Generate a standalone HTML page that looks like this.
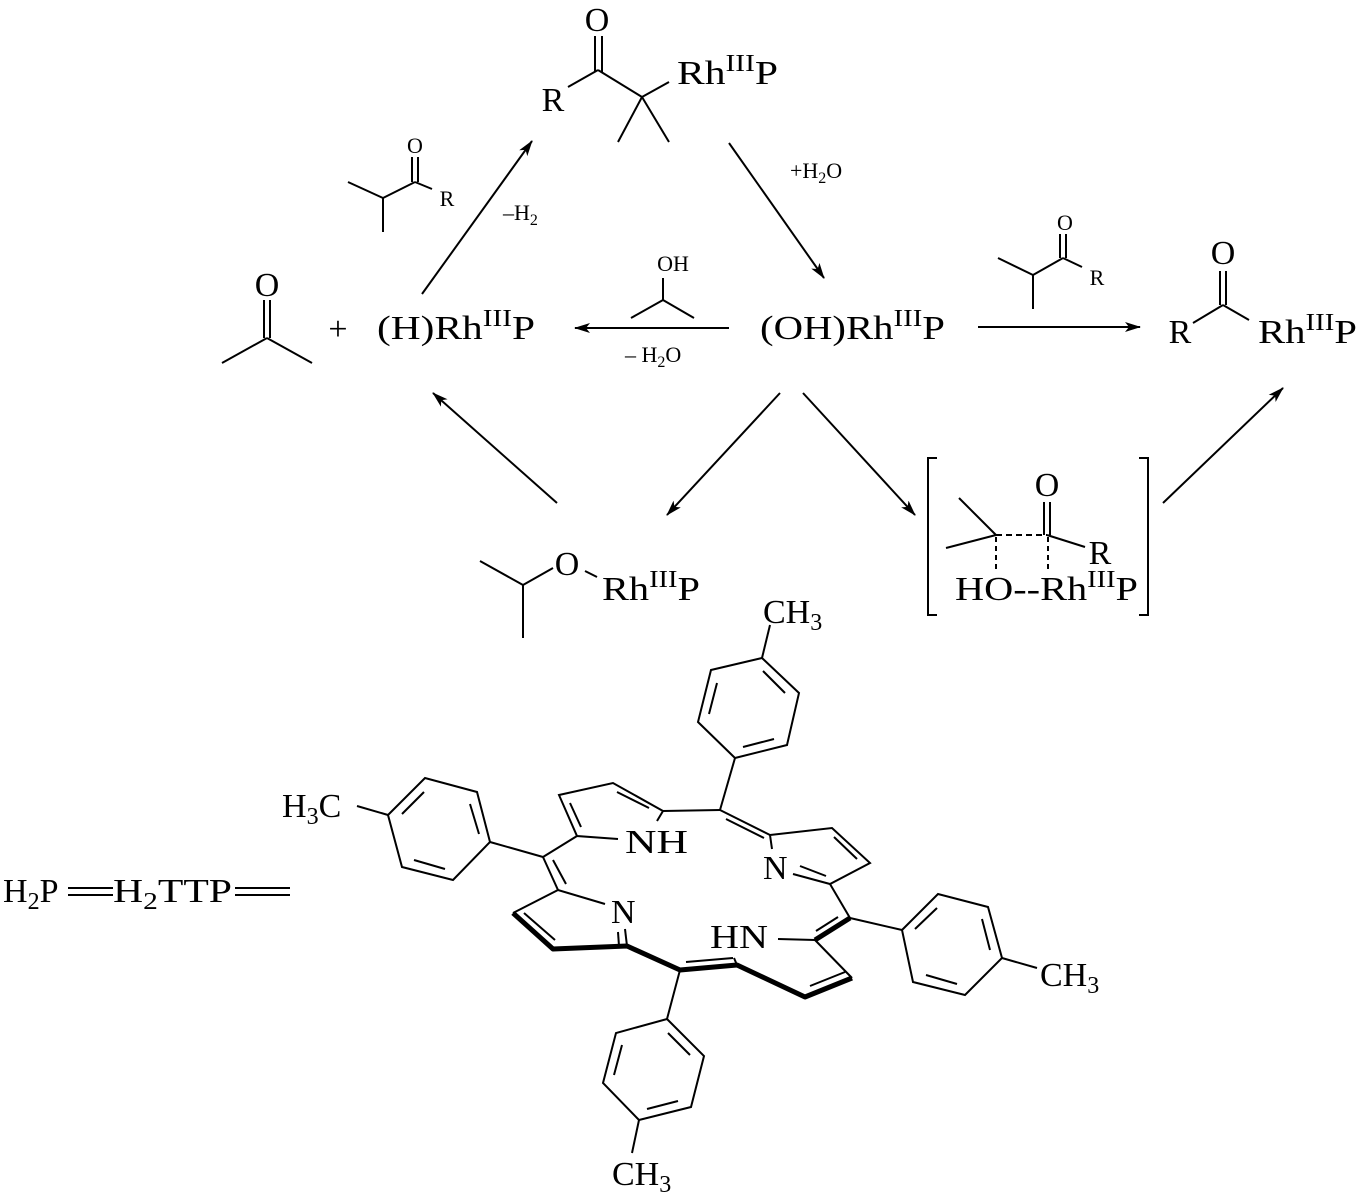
<!DOCTYPE html>
<html><head><meta charset="utf-8"><style>
html,body{margin:0;padding:0;background:#fff;}
svg{display:block;}
text{font-family:"Liberation Serif",serif;fill:#000;}
</style></head><body>
<svg width="1358" height="1200" viewBox="0 0 1358 1200" xmlns="http://www.w3.org/2000/svg">
<defs>
<marker id="ah" markerUnits="userSpaceOnUse" markerWidth="18" markerHeight="12" refX="15" refY="5" orient="auto">
<path d="M0,0 L16,5 L0,10 L4,5 z" fill="#000"/>
</marker>
</defs>
<g stroke="#000" stroke-width="2" fill="none" stroke-linecap="butt">
<line x1="595" y1="36" x2="595" y2="72"/><line x1="602" y1="36" x2="602" y2="72"/>
<line x1="568" y1="87" x2="598" y2="70"/>
<line x1="598" y1="70" x2="642" y2="97"/>
<line x1="642" y1="97" x2="669" y2="82"/>
<line x1="642" y1="97" x2="618" y2="142"/>
<line x1="642" y1="97" x2="669" y2="142"/>
<line x1="348" y1="182" x2="383" y2="198"/>
<line x1="383" y1="198" x2="383" y2="232"/>
<line x1="383" y1="198" x2="415" y2="182"/>
<line x1="412" y1="182" x2="412" y2="157"/><line x1="418" y1="182" x2="418" y2="157"/>
<line x1="415" y1="182" x2="432" y2="189"/>
<line x1="422" y1="294" x2="532" y2="141" marker-end="url(#ah)"/>
<line x1="729" y1="143" x2="824" y2="278" marker-end="url(#ah)"/>
<line x1="729" y1="328" x2="575" y2="328" marker-end="url(#ah)"/>
<line x1="978" y1="327" x2="1140" y2="327" marker-end="url(#ah)"/>
<line x1="557" y1="503" x2="433" y2="393" marker-end="url(#ah)"/>
<line x1="780" y1="393" x2="667" y2="515" marker-end="url(#ah)"/>
<line x1="803" y1="393" x2="915" y2="515" marker-end="url(#ah)"/>
<line x1="1163" y1="503" x2="1283" y2="388" marker-end="url(#ah)"/>
<line x1="663" y1="278" x2="663" y2="300"/>
<line x1="663" y1="300" x2="631" y2="318"/>
<line x1="663" y1="300" x2="694" y2="318"/>
<line x1="264" y1="300" x2="264" y2="338"/><line x1="270" y1="300" x2="270" y2="338"/>
<line x1="267" y1="338" x2="222" y2="363"/>
<line x1="267" y1="338" x2="312" y2="363"/>
<line x1="998" y1="258" x2="1033" y2="275"/>
<line x1="1033" y1="275" x2="1033" y2="309"/>
<line x1="1033" y1="275" x2="1063" y2="258"/>
<line x1="1060" y1="258" x2="1060" y2="234"/><line x1="1066" y1="258" x2="1066" y2="234"/>
<line x1="1063" y1="258" x2="1082" y2="267"/>
<line x1="1220" y1="271" x2="1220" y2="305"/><line x1="1226" y1="271" x2="1226" y2="305"/>
<line x1="1193" y1="323" x2="1223" y2="305"/>
<line x1="1223" y1="305" x2="1249" y2="320"/>
<line x1="480" y1="561" x2="523" y2="585"/>
<line x1="523" y1="585" x2="523" y2="638"/>
<line x1="523" y1="585" x2="553" y2="568"/>
<line x1="585" y1="571" x2="597" y2="577"/>
<polyline points="937,458 928,458 928,615 937,615"/>
<polyline points="1139,458 1148,458 1148,615 1139,615"/>
<line x1="959" y1="498" x2="996" y2="535"/>
<line x1="946" y1="548" x2="996" y2="535"/>
<line x1="996" y1="535" x2="1047" y2="535" stroke-dasharray="6,4"/>
<line x1="1044" y1="535" x2="1044" y2="502"/><line x1="1050" y1="535" x2="1050" y2="502"/>
<line x1="1047" y1="535" x2="1085" y2="547"/>
<line x1="996" y1="537" x2="996" y2="572" stroke-dasharray="5,4"/>
<line x1="1048" y1="537" x2="1048" y2="572" stroke-dasharray="5,4"/>
<line x1="68" y1="888" x2="113" y2="888"/><line x1="68" y1="895" x2="113" y2="895"/>
<line x1="235" y1="888" x2="290" y2="888"/><line x1="235" y1="895" x2="290" y2="895"/>

<polyline points="618,839 577,836 559,795 613,783 663,811 657,821"/>
<line x1="581" y1="827" x2="570" y2="803"/>
<line x1="617" y1="792" x2="649" y2="808"/>
<line x1="663" y1="811" x2="720" y2="810"/>
<line x1="720" y1="810" x2="770" y2="835"/>
<line x1="726" y1="819" x2="764" y2="838"/>
<polyline points="772,849 770,835 832,828 870,863 830,884 793,874"/>
<line x1="834" y1="837" x2="857" y2="859"/>
<line x1="800" y1="866" x2="826" y2="876"/>
<line x1="830" y1="884" x2="850" y2="918"/>
<line x1="838" y1="917" x2="816" y2="931"/>
<line x1="815" y1="940" x2="778" y2="939"/>
<line x1="815" y1="940" x2="852" y2="978"/>
<line x1="845" y1="972" x2="810" y2="986"/>
<line x1="737" y1="965" x2="734" y2="958"/>
<line x1="733" y1="958" x2="686" y2="962"/>
<line x1="627" y1="946" x2="625" y2="929"/>
<line x1="619" y1="946" x2="618" y2="932"/>
<line x1="555" y1="940" x2="524" y2="913"/>
<polyline points="513,913 558,890 605,904"/>
<line x1="558" y1="890" x2="543" y2="857"/>
<line x1="566" y1="884" x2="553" y2="860"/>
<line x1="543" y1="857" x2="577" y2="836"/>
<line x1="720" y1="810" x2="735" y2="758"/>
<line x1="543" y1="857" x2="490" y2="842"/>
<line x1="680" y1="970" x2="667" y2="1019"/>
<line x1="850" y1="918" x2="902" y2="930"/>
<polygon points="762,658 799,693 787,745 735,758 698,722 711,670"/>
<line x1="763" y1="671" x2="785" y2="693"/>
<line x1="709" y1="714" x2="717" y2="683"/>
<line x1="743" y1="747" x2="774" y2="739"/>
<line x1="762" y1="658" x2="770" y2="625"/>
<polygon points="388,815 425,778 477,792 490,842 453,880 402,867"/>
<line x1="402" y1="814" x2="424" y2="792"/>
<line x1="470" y1="804" x2="479" y2="834"/>
<line x1="445" y1="869" x2="414" y2="860"/>
<line x1="388" y1="815" x2="357" y2="806"/>
<polygon points="667,1019 704,1056 691,1107 639,1120 603,1083 616,1033"/>
<line x1="668" y1="1033" x2="690" y2="1055"/>
<line x1="622" y1="1045" x2="614" y2="1075"/>
<line x1="647" y1="1109" x2="678" y2="1101"/>
<line x1="639" y1="1120" x2="632" y2="1153"/>
<polygon points="902,930 938,894 988,907 1002,958 965,995 913,982"/>
<line x1="915" y1="929" x2="937" y2="908"/>
<line x1="982" y1="919" x2="990" y2="950"/>
<line x1="957" y1="984" x2="926" y2="975"/>
<line x1="1002" y1="958" x2="1037" y2="968"/>
</g>
<g stroke="#000" stroke-width="5" fill="none" stroke-linejoin="round">
<polyline points="513,913 553,949 627,946 680,970 737,965 805,997 852,978"/>
<line x1="850" y1="918" x2="815" y2="940"/>
</g>

<g font-size="34">
<text x="597" y="31" text-anchor="middle">O</text>
<text x="553" y="111" text-anchor="middle">R</text>
<text x="677" y="84" textLength="101" lengthAdjust="spacingAndGlyphs">Rh<tspan font-size="24" dy="-13">III</tspan><tspan dy="13">P</tspan></text>
<text x="267" y="296" text-anchor="middle">O</text>
<text x="338" y="340" text-anchor="middle">+</text>
<text x="377" y="339" textLength="158" lengthAdjust="spacingAndGlyphs">(H)Rh<tspan font-size="24" dy="-13">III</tspan><tspan dy="13">P</tspan></text>
<text x="760" y="339" textLength="185" lengthAdjust="spacingAndGlyphs">(OH)Rh<tspan font-size="24" dy="-13">III</tspan><tspan dy="13">P</tspan></text>
<text x="1223" y="264" text-anchor="middle">O</text>
<text x="1180" y="343" text-anchor="middle">R</text>
<text x="1258" y="343" textLength="99" lengthAdjust="spacingAndGlyphs">Rh<tspan font-size="24" dy="-13">III</tspan><tspan dy="13">P</tspan></text>
<text x="567" y="575" text-anchor="middle">O</text>
<text x="602" y="600" textLength="98" lengthAdjust="spacingAndGlyphs">Rh<tspan font-size="24" dy="-13">III</tspan><tspan dy="13">P</tspan></text>
<text x="1047" y="496" text-anchor="middle">O</text>
<text x="1100" y="564" text-anchor="middle">R</text>
<text x="955" y="600" textLength="183" lengthAdjust="spacingAndGlyphs">HO--Rh<tspan font-size="24" dy="-13">III</tspan><tspan dy="13">P</tspan></text>
<text x="763" y="623">CH<tspan font-size="24" dy="7">3</tspan></text>
<text x="282" y="817">H<tspan font-size="24" dy="7">3</tspan><tspan dy="-7">C</tspan></text>
<text x="612" y="1185">CH<tspan font-size="24" dy="7">3</tspan></text>
<text x="1040" y="986">CH<tspan font-size="24" dy="7">3</tspan></text>
<text x="625" y="853" textLength="63" lengthAdjust="spacingAndGlyphs">NH</text>
<text x="763" y="879">N</text>
<text x="710" y="948" textLength="58" lengthAdjust="spacingAndGlyphs">HN</text>
<text x="611" y="923">N</text>
<text x="3" y="902">H<tspan font-size="24" dy="7">2</tspan><tspan dy="-7">P</tspan></text>
<text x="113" y="902" textLength="119" lengthAdjust="spacingAndGlyphs">H<tspan font-size="24" dy="7">2</tspan><tspan dy="-7">TTP</tspan></text>
</g>
<g font-size="22">
<text x="415" y="153" text-anchor="middle">O</text>
<text x="447" y="206" text-anchor="middle">R</text>
<text x="1065" y="230" text-anchor="middle">O</text>
<text x="1097" y="285" text-anchor="middle">R</text>
<text x="673" y="271" text-anchor="middle">OH</text>
<text x="790" y="178">+H<tspan font-size="16" dy="5">2</tspan><tspan dy="-5">O</tspan></text>
<text x="503" y="220">–H<tspan font-size="16" dy="5">2</tspan></text>
<text x="625" y="362">– H<tspan font-size="16" dy="5">2</tspan><tspan dy="-5">O</tspan></text>
</g>
</svg>
</body></html>
